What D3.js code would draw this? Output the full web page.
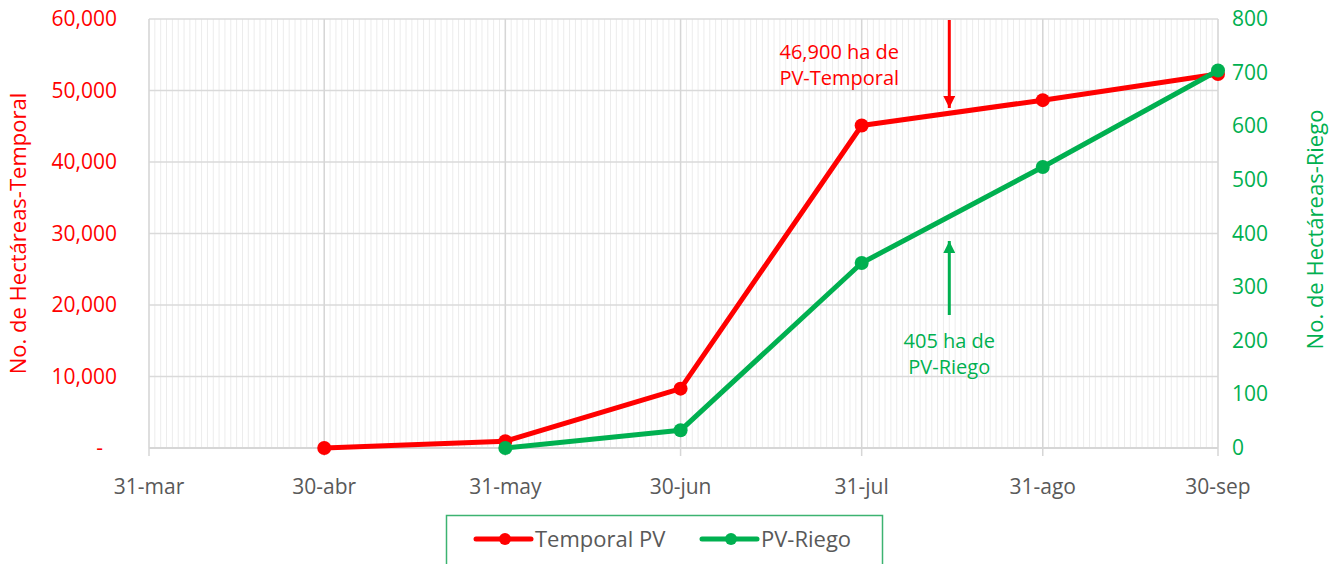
<!DOCTYPE html>
<html>
<head>
<meta charset="utf-8">
<script src="https://cdn.jsdelivr.net/npm/d3@7"></script>
<style>
  body { margin: 0; background: #fff; }
  text { font-family: "Open Sans", "DejaVu Sans", sans-serif; }
</style>
</head>
<body>
<div class="svgcontainer"></div>
<script>
// data
const fechas = ["2020-03-31", "2020-04-30", "2020-05-31", "2020-06-30", "2020-07-31", "2020-08-31", "2020-09-30"];
const etiquetas = ["31-mar", "30-abr", "31-may", "30-jun", "31-jul", "31-ago", "30-sep"];
const fechasTemporal = ["2020-04-30", "2020-05-31", "2020-06-30", "2020-07-31", "2020-08-31", "2020-09-30"];
const valoresTemporal = [0, 950, 8300, 45100, 48650, 52300];
const fechasRiego = ["2020-05-31", "2020-06-30", "2020-07-31", "2020-08-31", "2020-09-30"];
const valoresRiego = [0, 33, 345, 524, 704];
const ticksIzq = [0, 10000, 20000, 30000, 40000, 50000, 60000];
const ticksDer = [0, 100, 200, 300, 400, 500, 600, 700, 800];
const notaTemporal = ["46,900 ha de", "PV-Temporal"];
const notaRiego = ["405 ha de", "PV-Riego"];
const fechaFlecha = "2020-08-15";

const RED = "#ff0000", GREEN = "#00b050", GRAY = "#595959";
const W = 1334, H = 564;
const margin = { top: 19, right: 116, bottom: 116, left: 149 };
const width = W - margin.left - margin.right;
const height = H - margin.top - margin.bottom;
const parse = d3.utcParse("%Y-%m-%d");

const x = d3.scaleUtc().domain([parse(fechas[0]), parse(fechas[fechas.length - 1])]).range([0, width]);
const yL = d3.scaleLinear().domain([0, 60000]).range([height, 0]);
const yR = d3.scaleLinear().domain([0, 800]).range([height, 0]);

const svgRoot = d3.select('.svgcontainer').append('svg')
    .attr('width', W).attr('height', H);
const svg = svgRoot.append('g')
    .attr('transform', `translate(${margin.left}, ${margin.top})`);

// daily minor gridlines
const dias = d3.utcDay.range(parse(fechas[0]), d3.utcDay.offset(parse(fechas[fechas.length - 1]), 1));
svg.append('g').selectAll('line').data(dias).enter().append('line')
    .attr('x1', d => x(d)).attr('x2', d => x(d))
    .attr('y1', 0).attr('y2', height)
    .attr('stroke', '#ececec').attr('stroke-width', 1);

// horizontal gridlines
svg.append('g').selectAll('line').data(ticksIzq).enter().append('line')
    .attr('x1', 0).attr('x2', width)
    .attr('y1', d => yL(d)).attr('y2', d => yL(d))
    .attr('stroke', '#dadada').attr('stroke-width', 1.5);

// month gridlines + ticks
svg.append('g').selectAll('line').data(fechas).enter().append('line')
    .attr('x1', d => x(parse(d))).attr('x2', d => x(parse(d)))
    .attr('y1', 0).attr('y2', height + 8)
    .attr('stroke', '#d6d6d6').attr('stroke-width', 1.5);

// x axis line
svg.append('line').attr('x1', 0).attr('x2', width).attr('y1', height).attr('y2', height)
    .attr('stroke', '#d6d6d6').attr('stroke-width', 2);

// x labels
svg.append('g').selectAll('text').data(fechas).enter().append('text')
    .attr('x', d => x(parse(d))).attr('y', height + 46)
    .attr('text-anchor', 'middle').attr('fill', GRAY)
    .attr('font-size', 21)
    .text((d, i) => etiquetas[i]);

// left axis labels
svg.append('g').selectAll('text').data(ticksIzq).enter().append('text')
    .attr('x', d => d === 0 ? -46 : -32).attr('y', d => yL(d) + 7)
    .attr('text-anchor', 'end').attr('fill', RED).attr('font-size', 21)
    .text(d => d === 0 ? "-" : d3.format(",")(d));

// right axis labels
svg.append('g').selectAll('text').data(ticksDer).enter().append('text')
    .attr('x', width + 14).attr('y', d => yR(d) + 7)
    .attr('text-anchor', 'start').attr('fill', GREEN).attr('font-size', 21)
    .text(d => d);

// axis titles
svgRoot.append('text')
    .attr('transform', `translate(26, ${margin.top + height / 2}) rotate(-90)`)
    .attr('text-anchor', 'middle').attr('fill', RED).attr('font-size', 22)
    .text("No. de Hectáreas-Temporal");
svgRoot.append('text')
    .attr('transform', `translate(1323, ${margin.top + height / 2 - 4}) rotate(-90)`)
    .attr('text-anchor', 'middle').attr('fill', GREEN).attr('font-size', 22)
    .text("No. de Hectáreas-Riego");

// series
const temporal = fechasTemporal.map((f, i) => ({ d: parse(f), v: valoresTemporal[i] }));
const riego = fechasRiego.map((f, i) => ({ d: parse(f), v: valoresRiego[i] }));

function serie(datos, y, color) {
    svg.append('path').datum(datos)
        .attr('fill', 'none').attr('stroke', color).attr('stroke-width', 5)
        .attr('stroke-linejoin', 'round')
        .attr('d', d3.line().x(d => x(d.d)).y(d => y(d.v)));
    svg.append('g').selectAll('circle').data(datos).enter().append('circle')
        .attr('cx', d => x(d.d)).attr('cy', d => y(d.v)).attr('r', 7)
        .attr('fill', color);
}
serie(temporal, yL, RED);
serie(riego, yR, GREEN);

// annotations
const defs = svgRoot.append('defs');
[["arrRed", RED], ["arrGreen", GREEN]].forEach(([id, c]) => {
    defs.append('marker').attr('id', id).attr('viewBox', '0 0 10 10')
        .attr('refX', 10).attr('refY', 5).attr('markerWidth', 5).attr('markerHeight', 4)
        .attr('markerUnits', 'strokeWidth').attr('orient', 'auto')
        .append('path').attr('d', 'M0,0 L10,5 L0,10 z').attr('fill', c);
});
const xa = x(parse(fechaFlecha));
svg.append('line').attr('x1', xa).attr('x2', xa).attr('y1', 1).attr('y2', 89)
    .attr('stroke', RED).attr('stroke-width', 3).attr('marker-end', 'url(#arrRed)');
svg.append('line').attr('x1', xa).attr('x2', xa).attr('y1', 296).attr('y2', 222)
    .attr('stroke', GREEN).attr('stroke-width', 3).attr('marker-end', 'url(#arrGreen)');

svg.append('g').selectAll('text').data(notaTemporal).enter().append('text')
    .attr('x', xa - 110).attr('y', (d, i) => 40 + i * 26)
    .attr('text-anchor', 'middle').attr('fill', RED).attr('font-size', 20)
    .text(d => d);
svg.append('g').selectAll('text').data(notaRiego).enter().append('text')
    .attr('x', xa).attr('y', (d, i) => 329 + i * 26)
    .attr('text-anchor', 'middle').attr('fill', GREEN).attr('font-size', 20)
    .text(d => d);

// legend
const leg = svgRoot.append('g').attr('transform', 'translate(446, 515)');
leg.append('rect').attr('x', 0.5).attr('y', 0.5).attr('width', 436).attr('height', 52)
    .attr('fill', '#fff').attr('stroke', '#3cb371').attr('stroke-width', 1.5);
const items = [["Temporal PV", RED, 30], ["PV-Riego", GREEN, 256]];
items.forEach(([label, c, ox]) => {
    leg.append('line').attr('x1', ox).attr('x2', ox + 55).attr('y1', 24).attr('y2', 24)
        .attr('stroke', c).attr('stroke-width', 5).attr('stroke-linecap', 'round');
    leg.append('circle').attr('cx', ox + 29).attr('cy', 24).attr('r', 6).attr('fill', c);
    leg.append('text').attr('x', ox + 59).attr('y', 32).attr('fill', GRAY)
        .attr('font-size', 22).text(label);
});
</script>
</body>
</html>
